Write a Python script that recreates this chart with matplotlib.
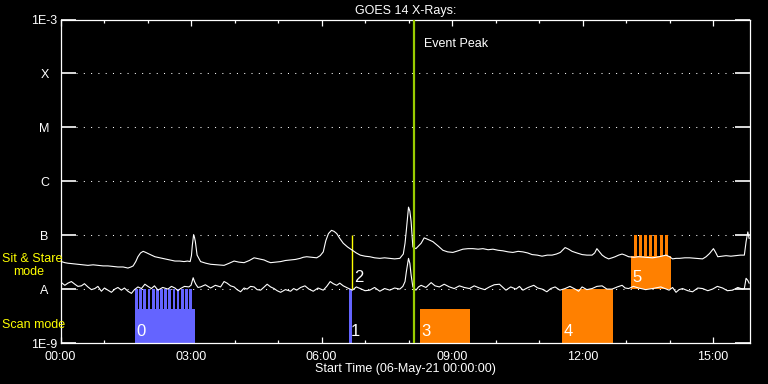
import numpy as np
import matplotlib
matplotlib.use("Agg")
import matplotlib.pyplot as plt
from matplotlib import ticker

plt.rcParams['font.family'] = ['Liberation Sans Narrow', 'Liberation Sans', 'DejaVu Sans']

# GOES 14 XRS, hours since 06-May-21 00:00, log10 flux (W/m^2)
long_t = [0.02, 0.10, 0.17, 0.28, 0.40, 0.52, 0.63, 0.75, 0.86, 0.98, 1.09, 1.20, 1.32, 1.44,
          1.55, 1.62, 1.67, 1.73, 1.78, 1.84, 1.90, 1.96, 2.01, 2.09, 2.17, 2.28, 2.40, 2.52,
          2.63, 2.74, 2.84, 2.92, 2.98, 3.01, 3.03, 3.06, 3.08, 3.10, 3.14, 3.22, 3.34, 3.45,
          3.60, 3.76, 3.88, 3.99, 4.10, 4.22, 4.34, 4.45, 4.57, 4.68, 4.76, 4.83, 4.95, 5.06,
          5.17, 5.29, 5.40, 5.51, 5.58, 5.66, 5.78, 5.89, 5.97, 6.04, 6.10, 6.16, 6.23, 6.29,
          6.35, 6.42, 6.50, 6.60, 6.71, 6.80, 6.89, 7.00, 7.11, 7.22, 7.34, 7.45, 7.57, 7.68,
          7.80, 7.88, 7.92, 7.95, 8.00, 8.03, 8.06, 8.10, 8.17, 8.23, 8.29, 8.36, 8.45, 8.56,
          8.68, 8.79, 8.90, 9.02, 9.14, 9.25, 9.37, 9.48, 9.60, 9.71, 9.83, 9.94, 10.06, 10.17,
          10.29, 10.40, 10.52, 10.63, 10.74, 10.84, 10.96, 11.07, 11.19, 11.30, 11.40, 11.49,
          11.55, 11.60, 11.68, 11.76, 11.87, 11.99, 12.10, 12.22, 12.28, 12.33, 12.39, 12.45,
          12.52, 12.60, 12.68, 12.75, 12.83, 12.91, 12.98, 13.06, 13.18, 13.29, 13.45, 13.61,
          13.76, 13.92, 14.00, 14.07, 14.15, 14.23, 14.35, 14.46, 14.61, 14.76, 14.84, 14.92,
          15.01, 15.06, 15.11, 15.20, 15.30, 15.41, 15.53, 15.63, 15.72, 15.76, 15.80, 15.83]
long_log = [-7.49, -7.51, -7.52, -7.53, -7.54, -7.55, -7.56, -7.55, -7.56, -7.57, -7.57, -7.58,
            -7.59, -7.59, -7.61, -7.59, -7.57, -7.49, -7.40, -7.33, -7.30, -7.32, -7.34, -7.37,
            -7.40, -7.42, -7.44, -7.46, -7.48, -7.48, -7.49, -7.48, -7.49, -7.38, -7.19, -6.99,
            -7.04, -7.12, -7.37, -7.49, -7.52, -7.54, -7.55, -7.56, -7.52, -7.48, -7.50, -7.51,
            -7.47, -7.42, -7.44, -7.46, -7.49, -7.51, -7.50, -7.49, -7.47, -7.46, -7.45, -7.43,
            -7.41, -7.40, -7.41, -7.42, -7.38, -7.31, -7.10, -6.97, -6.91, -6.93, -6.97, -7.06,
            -7.15, -7.22, -7.28, -7.33, -7.37, -7.39, -7.40, -7.42, -7.43, -7.42, -7.43, -7.44,
            -7.43, -7.35, -7.15, -6.91, -6.48, -6.55, -6.75, -7.22, -7.25, -7.20, -7.15, -7.05,
            -7.08, -7.12, -7.20, -7.28, -7.31, -7.32, -7.29, -7.26, -7.25, -7.25, -7.26, -7.25,
            -7.27, -7.26, -7.28, -7.29, -7.31, -7.32, -7.30, -7.31, -7.33, -7.36, -7.37, -7.39,
            -7.37, -7.37, -7.35, -7.32, -7.27, -7.23, -7.26, -7.30, -7.33, -7.36, -7.37, -7.37,
            -7.33, -7.25, -7.31, -7.37, -7.41, -7.44, -7.42, -7.40, -7.37, -7.35, -7.37, -7.40,
            -7.41, -7.40, -7.41, -7.42, -7.40, -7.37, -7.40, -7.44, -7.43, -7.43, -7.42, -7.42,
            -7.43, -7.44, -7.40, -7.34, -7.25, -7.32, -7.40, -7.39, -7.38, -7.39, -7.38, -7.37,
            -7.37, -7.12, -6.94, -7.06]

short_t = [0.02, 0.10, 0.17, 0.25, 0.33, 0.40, 0.48, 0.55, 0.63, 0.71, 0.79, 0.86, 0.94, 1.01,
           1.09, 1.17, 1.25, 1.32, 1.40, 1.47, 1.55, 1.63, 1.70, 1.78, 1.86, 1.94, 2.01, 2.09,
           2.16, 2.24, 2.35, 2.47, 2.55, 2.63, 2.70, 2.76, 2.85, 2.95, 3.00, 3.05, 3.08, 3.11,
           3.16, 3.22, 3.33, 3.45, 3.56, 3.68, 3.76, 3.83, 3.91, 3.99, 4.06, 4.14, 4.22, 4.29,
           4.37, 4.45, 4.52, 4.60, 4.67, 4.75, 4.83, 4.91, 4.98, 5.06, 5.17, 5.29, 5.36, 5.43,
           5.52, 5.62, 5.71, 5.81, 5.92, 6.04, 6.12, 6.20, 6.27, 6.35, 6.42, 6.50, 6.60, 6.71,
           6.80, 6.89, 7.00, 7.11, 7.22, 7.34, 7.45, 7.57, 7.68, 7.80, 7.87, 7.92, 7.95, 8.00,
           8.03, 8.06, 8.10, 8.17, 8.23, 8.29, 8.40, 8.52, 8.61, 8.71, 8.82, 8.94, 9.05, 9.17,
           9.28, 9.40, 9.51, 9.63, 9.75, 9.86, 9.97, 10.09, 10.17, 10.24, 10.35, 10.47, 10.55,
           10.63, 10.75, 10.88, 10.97, 11.07, 11.18, 11.27, 11.37, 11.48, 11.60, 11.71, 11.83,
           11.91, 11.99, 12.10, 12.22, 12.33, 12.45, 12.56, 12.68, 12.80, 12.91, 12.98, 13.06,
           13.17, 13.29, 13.45, 13.61, 13.80, 13.99, 14.07, 14.15, 14.22, 14.30, 14.42, 14.53,
           14.65, 14.76, 14.88, 14.99, 15.10, 15.22, 15.33, 15.45, 15.57, 15.68, 15.72, 15.76,
           15.80, 15.83]
short_log = [-7.88, -7.93, -7.89, -7.86, -7.91, -7.95, -7.94, -7.90, -7.96, -8.01, -7.99, -7.95,
             -8.04, -7.98, -8.02, -8.06, -8.00, -7.97, -8.02, -7.98, -8.04, -8.08, -8.01, -7.96,
             -7.99, -7.91, -7.95, -7.99, -7.94, -8.02, -7.97, -8.00, -7.95, -7.98, -8.03, -7.99,
             -7.95, -7.96, -7.93, -7.79, -7.86, -7.91, -7.97, -7.96, -7.92, -7.98, -7.93, -7.96,
             -7.86, -7.89, -7.94, -7.96, -8.01, -8.05, -7.98, -8.00, -7.95, -7.96, -8.01, -8.02,
             -7.97, -7.91, -7.96, -7.99, -8.03, -8.06, -8.01, -8.04, -7.99, -8.02, -7.97, -7.94,
             -8.00, -8.04, -7.98, -8.02, -7.95, -7.86, -7.90, -7.93, -7.89, -7.94, -7.98, -8.02,
             -7.96, -7.99, -8.03, -8.02, -7.97, -8.04, -7.99, -8.02, -7.98, -8.00, -7.95, -7.86,
             -7.68, -7.43, -7.52, -7.74, -7.96, -8.02, -7.96, -7.93, -7.97, -7.88, -7.94, -7.96,
             -7.91, -7.96, -7.99, -7.94, -7.97, -7.99, -7.94, -7.98, -8.01, -7.96, -7.92, -7.91,
             -7.97, -8.02, -7.96, -8.00, -7.95, -8.02, -7.97, -7.93, -7.98, -8.00, -8.05, -7.99,
             -7.96, -8.02, -7.99, -7.95, -8.00, -8.04, -7.96, -8.01, -7.99, -7.95, -7.94, -8.00,
             -8.00, -7.96, -7.93, -7.98, -7.99, -7.95, -7.98, -8.01, -7.99, -7.96, -8.02, -7.97,
             -8.06, -8.01, -7.99, -8.03, -8.05, -7.98, -7.99, -8.03, -8.00, -7.95, -7.98, -8.03,
             -8.02, -7.97, -8.00, -7.99, -7.80, -7.84, -7.89]

# IRIS observations (hours), numbered 0..5
obs_ids = ['0', '1', '2', '3', '4', '5']
obs_start = [1.713, 6.632, 6.710, 8.264, 11.530, 13.115]
obs_end = [3.092, 6.701, 6.710, 9.414, 12.690, 14.034]
obs_low = [1e-9, 1e-9, 1e-8, 1e-9, 1e-9, 1e-8]
obs_high = [4.2e-9, 1e-8, 1e-7, 4.2e-9, 1e-8, 4.1e-8]

# raster sub-steps drawn as comb teeth
teeth0 = [1.713, 1.809, 1.903, 2.000, 2.097, 2.191, 2.287, 2.384, 2.478, 2.575, 2.671,
          2.766, 2.862, 2.959]
teeth5 = [13.184, 13.303, 13.416, 13.531, 13.651, 13.775, 13.897]
tooth_w = 0.064

peak_t = 8.127
t_end = 15.85

blue = '#6464ff'
orange = '#ff8000'
green = '#99cc00'
yellow = '#ffff00'

fig = plt.figure(figsize=(7.68, 3.84), dpi=100, facecolor='black')
ax = fig.add_axes([60.5/768, 41/384, 689.5/768, 323.5/384])
ax.set_facecolor('black')
ax.set_yscale('log')
ax.set_ylim(1e-9, 1e-3)
ax.set_xlim(0, t_end)

# dotted flare-class levels
for lev in [1e-8, 1e-7, 1e-6, 1e-5, 1e-4]:
    ax.axhline(lev, xmin=0.022, xmax=0.979, color='white', lw=0.75,
               linestyle=(0, (1, 6)), zorder=1)

# observation blocks
obs_colors = [blue, blue, yellow, orange, orange, orange]
for i in range(len(obs_ids)):
    if obs_ids[i] == '2':
        ax.vlines(obs_start[i], obs_low[i], obs_high[i], color=yellow, lw=1.0, zorder=3)
    else:
        ax.bar(obs_start[i], obs_high[i] - obs_low[i], bottom=obs_low[i],
               width=obs_end[i] - obs_start[i], align='edge', color=obs_colors[i],
               lw=0, zorder=2)
    ax.annotate(obs_ids[i], xy=(obs_start[i], obs_low[i]), xytext=(1.2, 3),
                textcoords='offset points', color='white', fontsize=12,
                ha='left', va='bottom', zorder=5)

ax.bar(teeth0, 1e-8 - 4.2e-9, bottom=4.2e-9, width=tooth_w, align='edge',
       color=blue, lw=0, zorder=2)
ax.bar(teeth5, 1e-7 - 4.1e-8, bottom=4.1e-8, width=tooth_w, align='edge',
       color=orange, lw=0, zorder=2)

# light curves
ax.plot(long_t, 10.0 ** np.array(long_log), color='white', lw=0.8, zorder=4)
ax.plot(short_t, 10.0 ** np.array(short_log), color='white', lw=0.8, zorder=4)

# event peak
ax.axvline(peak_t, color=green, lw=1.6, zorder=4)
ax.annotate('Event Peak', xy=(peak_t, 1e-3), xytext=(7.5, -20), textcoords='offset points',
            color='white', fontsize=9, ha='left', va='baseline')

# axes styling
for s in ax.spines.values():
    s.set_color('white')
    s.set_linewidth(0.9)

ax.yaxis.set_major_locator(ticker.FixedLocator([1e-9, 1e-8, 1e-7, 1e-6, 1e-5, 1e-4, 1e-3]))
ax.yaxis.set_minor_locator(ticker.NullLocator())
ax.set_yticklabels(['1E-9', 'A', 'B', 'C', 'M', 'X', '1E-3'])
ax.tick_params(axis='y', which='major', direction='in', left=True, right=True, length=10.5,
               width=1.2, color='white', labelcolor='white', labelsize=9, pad=11.5)
for lab in ax.get_yticklabels():
    lab.set_horizontalalignment('center')

ax.xaxis.set_major_locator(ticker.FixedLocator([0, 3, 6, 9, 12, 15]))
ax.xaxis.set_minor_locator(ticker.MultipleLocator(1))
ax.set_xticklabels(['00:00', '03:00', '06:00', '09:00', '12:00', '15:00'])
ax.tick_params(axis='x', which='major', direction='in', top=True, bottom=True, length=4.3,
               width=0.9, color='white', labelcolor='white', labelsize=9, pad=5.5)
ax.tick_params(axis='x', which='minor', direction='in', top=True, bottom=True, length=2.2,
               width=0.9, color='white')

ax.set_title('GOES 14 X-Rays:', color='white', fontsize=9, pad=4)
fig.text(405/768, 12/384, 'Start Time (06-May-21 00:00:00)', color='white', fontsize=9,
         ha='center', va='baseline')

fig.text(2/768, 1 - 262.5/384, 'Sit & Stare', color=yellow, fontsize=9, va='baseline',
         zorder=10)
fig.text(12.7/768, 1 - 274.7/384, 'mode', color=yellow, fontsize=9, va='baseline', zorder=10)
fig.text(1.7/768, 1 - 328/384, 'Scan mode', color=yellow, fontsize=9, va='baseline', zorder=10)

fig.savefig('out.png', dpi=100, facecolor='black')
